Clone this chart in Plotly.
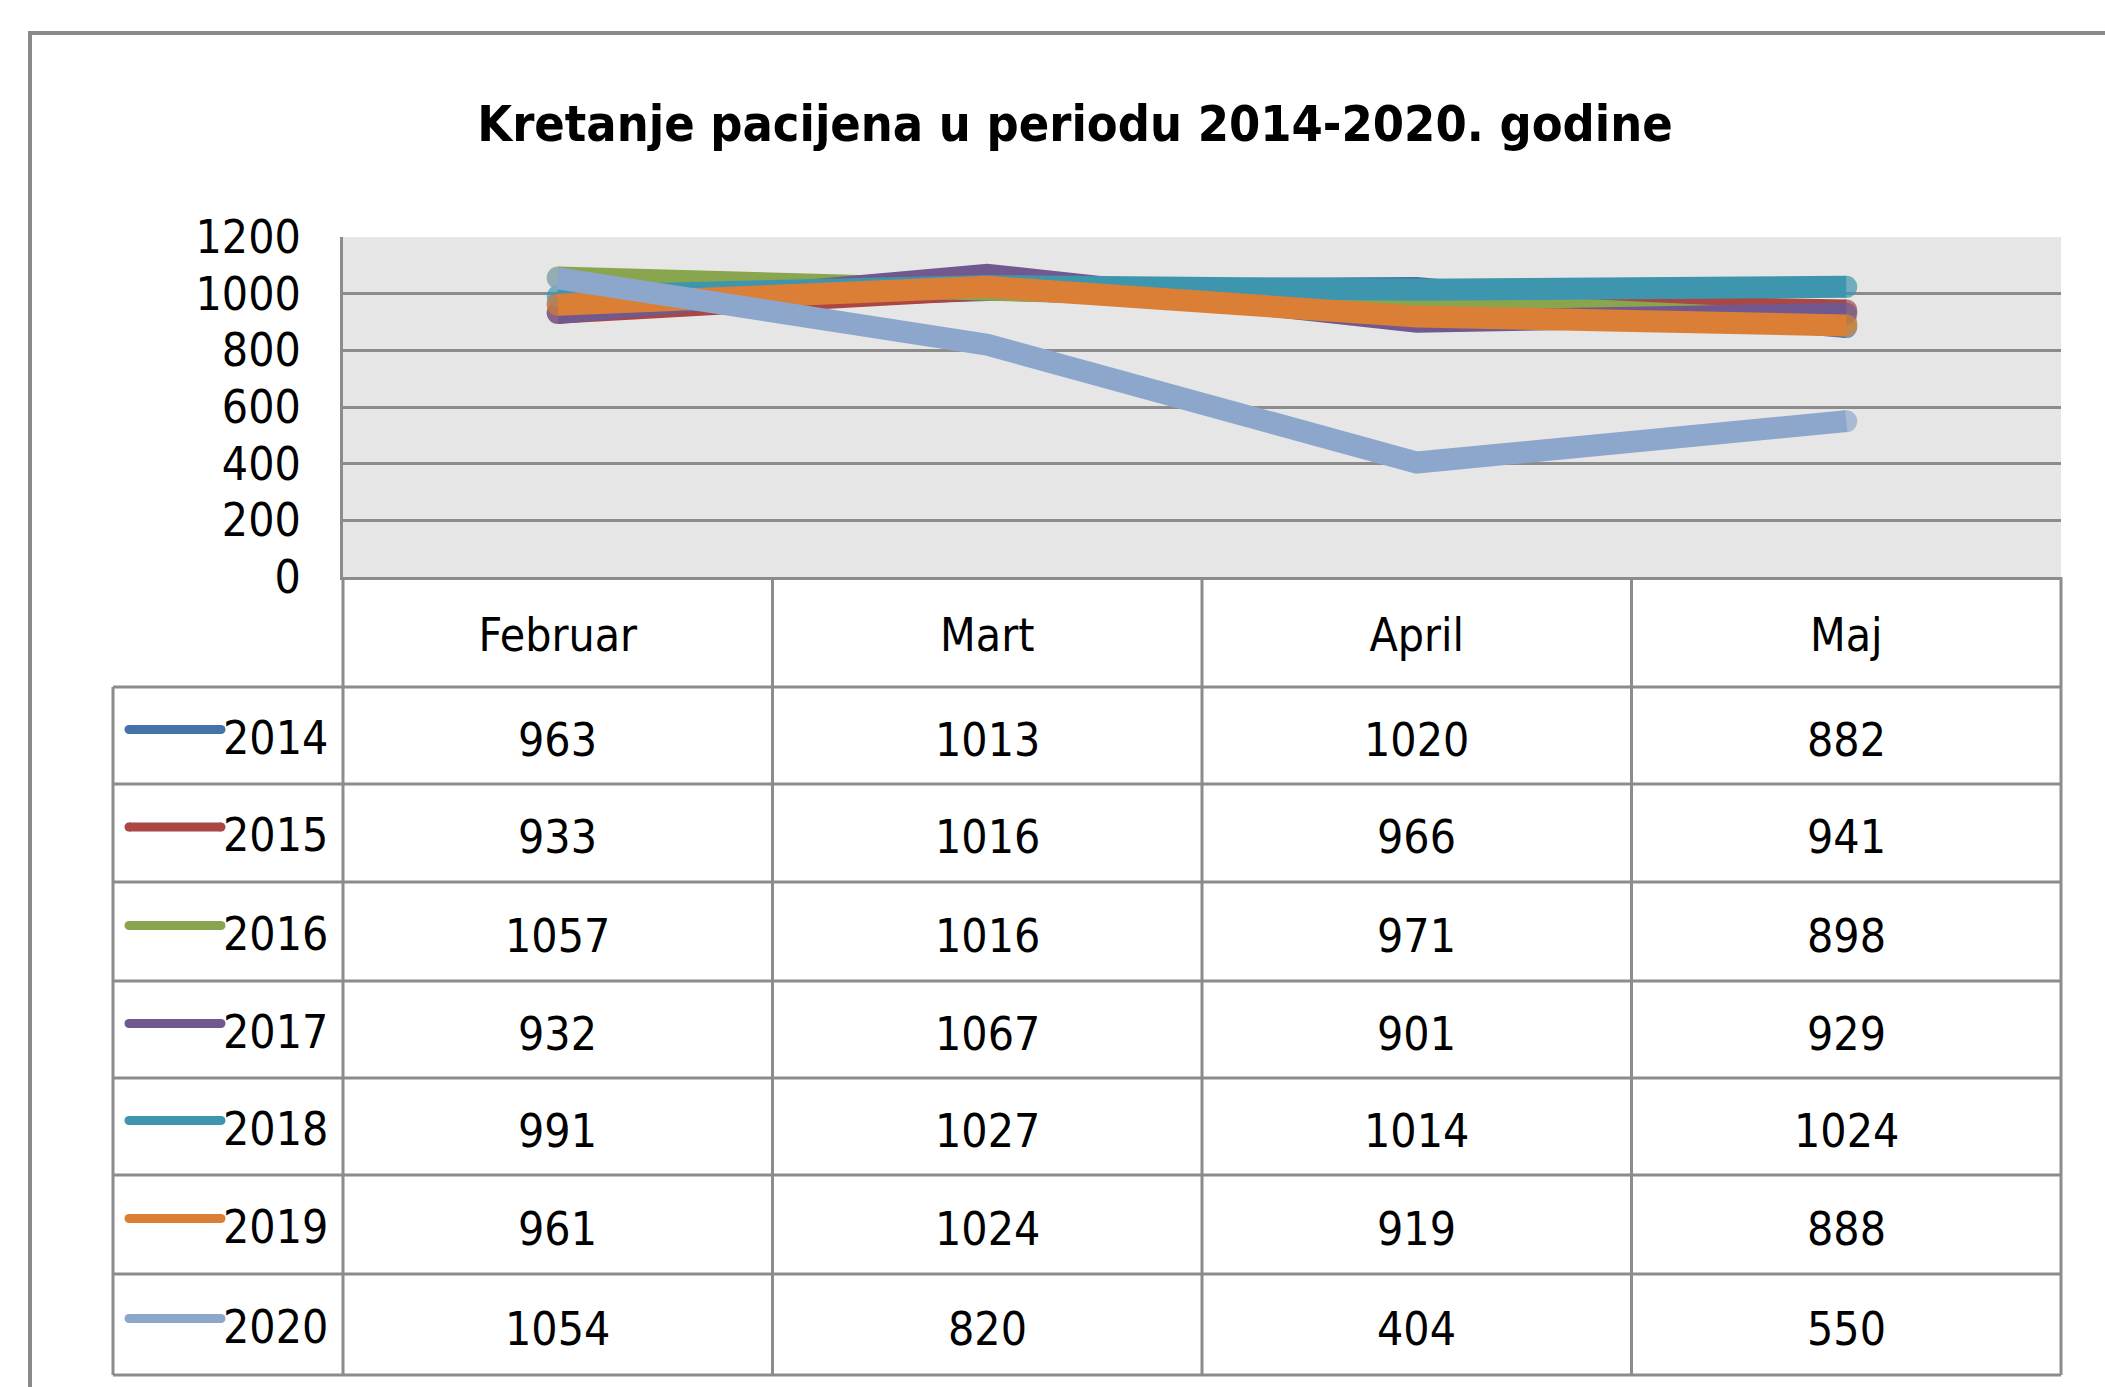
import plotly.graph_objects as go

# ---------------- data ----------------
categories = ["Februar", "Mart", "April", "Maj"]
years = ["2014", "2015", "2016", "2017", "2018", "2019", "2020"]
v2014 = [963, 1013, 1020, 882]
v2015 = [933, 1016, 966, 941]
v2016 = [1057, 1016, 971, 898]
v2017 = [932, 1067, 901, 929]
v2018 = [991, 1027, 1014, 1024]
v2019 = [961, 1024, 919, 888]
v2020 = [1054, 820, 404, 550]
series = [v2014, v2015, v2016, v2017, v2018, v2019, v2020]
y_ticks = [0, 200, 400, 600, 800, 1000, 1200]

colors = ["#4572A7", "#AA4643", "#89A54E", "#71588F", "#3D96AE", "#DB7F36", "#8DA6CC"]
title_text = "Kretanje pacijena u periodu 2014-2020. godine"

# ---------------- layout geometry (pixels) ----------------
W, H = 2105, 1387
def px(x):
    return x / W
def py(y):
    return 1 - y / H

PLOT_L, PLOT_R, PLOT_T, PLOT_B = 343, 2061, 237, 577
TABLE_L = 113
row_edges = [687, 784, 882, 981, 1078, 1175, 1274, 1375]
GRID = "#8c8c8c"
FONT = "DejaVu Sans Condensed, DejaVu Sans, sans-serif"
FS = 46
LW = 22

fig = go.Figure()
n = len(categories)
for name, vals, col in zip(years, series, colors):
    fig.add_trace(go.Scatter(
        x=categories, y=vals, name=name, mode="lines+markers",
        line=dict(color=col, width=LW),
        marker=dict(color=col, size=[LW if j in (0, n - 1) else 0 for j in range(n)],
                    line=dict(width=0)),
        showlegend=False, hoverinfo="x+y+name",
    ))

shapes = []
# outer frame
shapes.append(dict(type="rect", xref="paper", yref="paper",
                   x0=px(30), x1=px(2130), y0=py(1410), y1=py(33),
                   line=dict(color="#8a8a8a", width=4), layer="below"))
# horizontal table lines
for e in row_edges:
    shapes.append(dict(type="line", xref="paper", yref="paper",
                       x0=px(TABLE_L), x1=px(PLOT_R), y0=py(e), y1=py(e),
                       line=dict(color=GRID, width=3)))
# vertical table lines
shapes.append(dict(type="line", xref="paper", yref="paper",
                   x0=px(TABLE_L), x1=px(TABLE_L), y0=py(row_edges[0]), y1=py(row_edges[-1]),
                   line=dict(color=GRID, width=3)))
for k in range(n + 1):
    xx = PLOT_L + (PLOT_R - PLOT_L) * k / n
    shapes.append(dict(type="line", xref="paper", yref="paper",
                       x0=px(xx), x1=px(xx), y0=py(PLOT_B), y1=py(row_edges[-1]),
                       line=dict(color=GRID, width=3)))

annotations = []
for i, (name, vals, col) in enumerate(zip(years, series, colors)):
    top, bot = row_edges[i], row_edges[i + 1]
    cy = (top + bot) / 2
    # legend key
    shapes.append(dict(type="line", xref="paper", yref="paper",
                       x0=px(129), x1=px(221), y0=py(cy - 6), y1=py(cy - 6),
                       line=dict(color=col, width=9)))
    for xe in (129, 221):
        shapes.append(dict(type="circle", xref="paper", yref="paper",
                           x0=px(xe - 4.5), x1=px(xe + 4.5),
                           y0=py(cy - 6 + 4.5), y1=py(cy - 6 - 4.5),
                           fillcolor=col, line=dict(width=0)))
    annotations.append(dict(text=name, xref="paper", yref="paper",
                            x=px(330), y=py(cy + 2), xanchor="right", yanchor="middle",
                            showarrow=False, font=dict(family=FONT, size=FS, color="black")))
    for c, v in zip(categories, vals):
        annotations.append(dict(text=str(v), xref="x", yref="paper",
                                x=c, y=py(cy + 4), xanchor="center", yanchor="middle",
                                showarrow=False, font=dict(family=FONT, size=FS, color="black")))

fig.update_layout(
    width=W, height=H,
    margin=dict(l=0, r=0, t=0, b=0, pad=0),
    paper_bgcolor="white",
    plot_bgcolor="#e6e6e6",
    title=dict(text="<b>" + title_text + "</b>", x=px(1075), y=py(123),
               xanchor="center", yanchor="middle", xref="paper", yref="paper",
               automargin=False,
               font=dict(family=FONT, size=50, color="black")),
    xaxis=dict(domain=[px(PLOT_L), px(PLOT_R)], type="category", automargin=False,
               range=[-0.5, n - 0.5], showgrid=False, zeroline=False,
               showline=True, linecolor=GRID, linewidth=3,
               ticks="", ticklabelstandoff=16,
               tickfont=dict(family=FONT, size=FS, color="black")),
    yaxis=dict(domain=[py(PLOT_B), py(PLOT_T)], range=[0, 1200], automargin=False,
               tickvals=y_ticks, showgrid=True, gridcolor=GRID, gridwidth=3,
               zeroline=False, showline=True, linecolor=GRID, linewidth=3,
               ticks="", ticklabelstandoff=30,
               tickfont=dict(family=FONT, size=FS, color="black")),
    shapes=shapes,
    annotations=annotations,
    font=dict(family=FONT, color="black"),
)

fig.write_html("out.html", config={"displayModeBar": False},
               post_script="document.body.style.margin='0';")
